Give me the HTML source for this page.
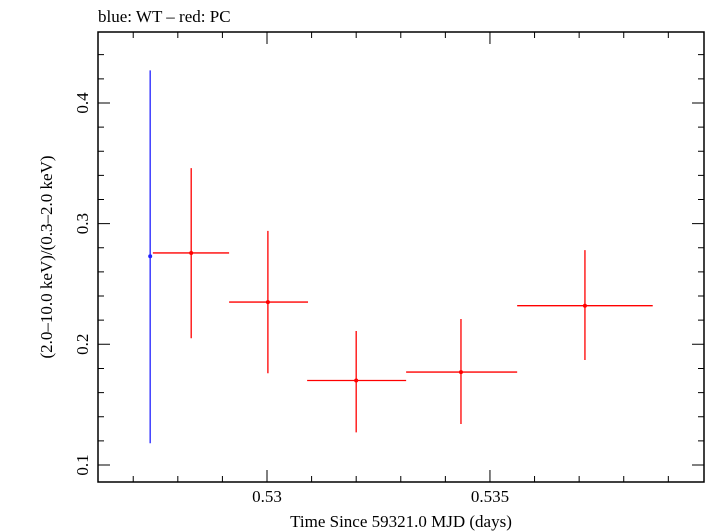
<!DOCTYPE html>
<html><head><meta charset="utf-8"><style>
body{margin:0;background:#fff;}
svg{display:block;font-family:"Liberation Serif",serif;}
</style></head><body>
<svg id="chart" width="705" height="532" xmlns="http://www.w3.org/2000/svg">
<text x="98" y="22" font-size="17">blue: WT – red: PC</text>
<g id="axes"></g>
<g id="marks"></g>
<text x="401" y="527" font-size="17" text-anchor="middle">Time Since 59321.0 MJD (days)</text>
<text transform="translate(52,257) rotate(-90)" font-size="17" text-anchor="middle">(2.0–10.0 keV)/(0.3–2.0 keV)</text>
</svg>
<script>
const wtX=[0.52738], wtY=[0.273], wtYLo=[0.118], wtYHi=[0.427];
const pcX=[0.52830,0.53002,0.53200,0.53435,0.53713];
const pcXLo=[0.52744,0.52915,0.53090,0.53312,0.53561];
const pcXHi=[0.52915,0.53092,0.53312,0.53561,0.53865];
const pcY=[0.2757,0.235,0.170,0.177,0.232];
const pcYLo=[0.205,0.176,0.127,0.134,0.187];
const pcYHi=[0.346,0.294,0.211,0.221,0.278];
const xTickLabels=["0.53","0.535"];
const yTickLabels=["0.1","0.2","0.3","0.4"];
const L=98,R=704,T=32,B=482;
const x0=0.52621,x1=0.5398,y0=0.0859,y1=0.4588;
const sx=v=>L+(v-x0)/(x1-x0)*(R-L);
const sy=v=>B-(v-y0)/(y1-y0)*(B-T);
const NS="http://www.w3.org/2000/svg";
function mk(tag,attrs,parent){const e=document.createElementNS(NS,tag);for(const k in attrs)e.setAttribute(k,attrs[k]);parent.appendChild(e);return e;}
const ax=document.getElementById('axes'), mg=document.getElementById('marks');
const frame=mk('rect',{x:L,y:T,width:R-L,height:B-T,fill:'none',stroke:'#000','stroke-width':1.5},ax);


for(let i=526;i<=540;i++){const v=i/1000;if(v<x0||v>x1)continue;const px=sx(v);const major=(i%5===0);const len=major?12:6;
 const t=mk('path',{d:`M${px},${B}v${-len}M${px},${T}v${len}`,stroke:'#000','stroke-width':1},ax);
 
 }
xTickLabels.forEach(s=>{const t=mk('text',{x:sx(parseFloat(s)),y:B+20,'font-size':17,'text-anchor':'middle'},ax);t.textContent=s;
 
 });
for(let i=5;i<=22;i++){const v=i*0.02;if(v<y0||v>y1)continue;const py=sy(v);const major=(i%5===0);const len=major?12:6;
 const t=mk('path',{d:`M${L},${py}h${len}M${R},${py}h${-len}`,stroke:'#000','stroke-width':1},ax);
 
 }
yTickLabels.forEach(s=>{const py=sy(parseFloat(s));const t=mk('text',{transform:`translate(88,${py}) rotate(-90)`,'font-size':17,'text-anchor':'middle'},ax);t.textContent=s;
 
 });
function pt(x,y,xl,xh,yl,yh,col,name){
 const g=mk('g',{},mg);
 
 
 let d=`M${sx(x)},${sy(yl)}V${sy(yh)}`;
 if(xl!==null)d+=`M${sx(xl)},${sy(y)}H${sx(xh)}`;
 mk('path',{d:d,stroke:col,'stroke-width':1.3,fill:'none'},g);
 mk('circle',{cx:sx(x),cy:sy(y),r:2,fill:col},g);}
wtX.forEach((x,i)=>pt(x,wtY[i],null,null,wtYLo[i],wtYHi[i],'#2020ff','wt-point'));
pcX.forEach((x,i)=>pt(x,pcY[i],pcXLo[i],pcXHi[i],pcYLo[i],pcYHi[i],'#ff0000','pc-point'));
</script>
</body></html>
